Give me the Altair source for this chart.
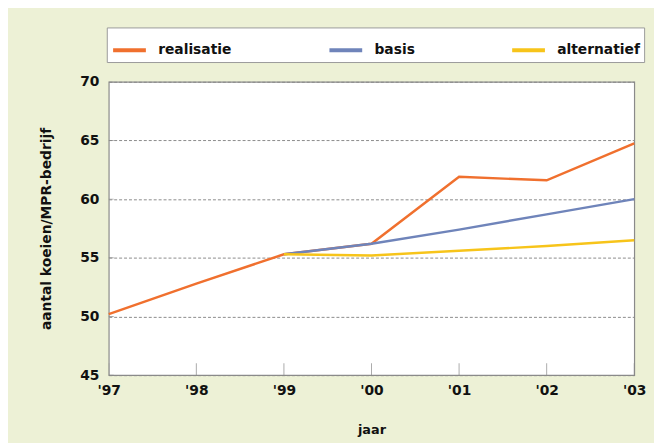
import altair as alt
import pandas as pd

years = [1997, 1998, 1999, 2000, 2001, 2002, 2003]
realisatie = [50.2, 52.8, 55.3, 56.2, 61.9, 61.6, 64.75]
basis = [None, None, 55.3, 56.2, 57.4, 58.7, 60.0]
alternatief = [None, None, 55.3, 55.2, 55.6, 56.0, 56.5]

series_names = ["realisatie", "basis", "alternatief"]
series_colors = ["#f0702e", "#6f84ba", "#f7c41a"]
y_ticks = [45, 50, 55, 60, 65, 70]

rows = []
for name, vals in zip(series_names, [realisatie, basis, alternatief]):
    for yr, v in zip(years, vals):
        if v is not None:
            rows.append({"jaar": yr, "waarde": v, "reeks": name})
df = pd.DataFrame(rows)

FONT = "DejaVu Sans"
x_scale = alt.Scale(domain=[1997, 2003], nice=False, zero=False)
y_scale = alt.Scale(domain=[45, 70], nice=False, zero=False)

x_enc = alt.X(
    "jaar:Q",
    scale=x_scale,
    axis=alt.Axis(
        values=years,
        labelExpr="\"'\" + substring(toString(datum.value), 2)",
        labelFlush=False,
        labelOverlap=False,
        title="jaar",
        grid=False,
        tickSize=0,
        domain=False,
        labelPadding=9,
        titlePadding=26,
        labelFontSize=14,
        titleFontSize=13,
        labelFont=FONT,
        titleFont=FONT,
        labelFontWeight="bold",
        titleFontWeight="bold",
        labelColor="#111",
        titleColor="#111",
    ),
)
y_enc = alt.Y(
    "waarde:Q",
    scale=y_scale,
    axis=alt.Axis(
        values=y_ticks,
        labelFlush=False,
        title="aantal koeien/MPR-bedrijf",
        grid=True,
        gridDash=[3, 2],
        gridColor="#8a8a8a",
        gridWidth=1,
        tickSize=0,
        domain=False,
        labelPadding=10,
        titlePadding=26,
        labelFontSize=14,
        titleFontSize=14,
        labelFont=FONT,
        titleFont=FONT,
        labelFontWeight="bold",
        titleFontWeight="bold",
        labelColor="#111",
        titleColor="#111",
    ),
)

lines = alt.Chart(df).mark_line(strokeWidth=2.5).encode(
    x=x_enc,
    y=y_enc,
    color=alt.Color(
        "reeks:N",
        scale=alt.Scale(domain=series_names, range=series_colors),
        sort=series_names,
        legend=alt.Legend(
            title=None,
            orient="none",
            legendX=-2,
            legendY=-55,
            direction="horizontal",
            fillColor="white",
            strokeColor="#9a9a9a",
            padding=4,
            columnPadding=90,
            symbolType="stroke",
            symbolSize=1100,
            symbolStrokeWidth=4,
            labelFont=FONT,
            labelFontSize=14,
            labelFontWeight="bold",
            labelColor="#111",
            labelOffset=10,
        ),
    ),
    order=alt.Order("jaar:Q"),
)

tick_df = pd.DataFrame({"jaar": years, "waarde": [45] * len(years)})
xticks = alt.Chart(tick_df).mark_tick(
    orient="vertical", size=24, color="#888", thickness=1, clip=True
).encode(
    x=alt.X("jaar:Q", scale=x_scale),
    y=alt.Y("waarde:Q", scale=y_scale),
)

ytick_df = pd.DataFrame({"jaar": [1997] * len(y_ticks), "waarde": y_ticks})
yticks = alt.Chart(ytick_df).mark_tick(
    orient="horizontal", size=10, color="#888", thickness=1, clip=True
).encode(
    x=alt.X("jaar:Q", scale=x_scale),
    y=alt.Y("waarde:Q", scale=y_scale),
)

chart = (
    alt.layer(lines, xticks, yticks)
    .properties(
        width=532,
        height=297,
        background="#edf1d6",
        padding={"left": 102, "top": 72, "right": 20, "bottom": 66},
        autosize=alt.AutoSizeParams(type="none"),
    )
    .configure_view(fill="white", stroke="#8a8a8a", strokeWidth=1.2)
)

chart.save("out.html", embed_options={"renderer": "svg", "actions": False})
